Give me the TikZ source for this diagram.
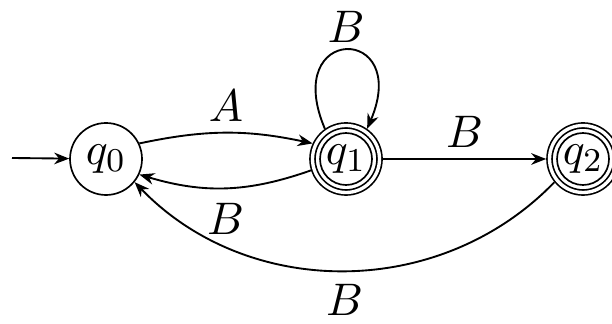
\documentclass[tikz,border=0pt]{standalone}
\usetikzlibrary{arrows.meta}
\begin{document}
\begin{tikzpicture}[x=0.24pt,y=0.24pt,
  every node/.style={font=\fontsize{10.8}{13}\selectfont},
  state/.style={circle, draw, minimum size=17.28pt, inner sep=0pt},
  accepting/.style={minimum size=16.08pt, double, double distance=0.8pt, outer sep=0.8pt,
    path picture={\draw (path picture bounding box.center) circle[radius=6.24pt];}},
  edge/.style={draw, line width=0.45pt, -{Stealth[length=3.6pt,width=2.8pt]}},
  lbl/.style={inner sep=2.5pt}]
\useasboundingbox (0,0) rectangle (612,323);
\node[state] (q0) at (106,164) {$q_0$};
\node[state,accepting] (q1) at (346,164) {$q_1$};
\node[state,accepting] (q2) at (583,164) {$q_2$};
\coordinate (start) at (12,165);
\draw[edge] (start) -- (q0);
\draw[edge] (q0.25) to[bend left=12] node[lbl,above] (lA) {$A$} (q1.155);
\draw[edge] (q1.198) to[bend left=18] node[lbl,below,yshift=-1pt] (lB1) {$B$} (q0.-25);
\draw[edge] (q1) -- node[lbl,above] (lB2) {$B$} (q2);
\draw[edge] (q1.125) .. controls +(113:114) and +(67:114) .. node[lbl,above,inner sep=1.5pt] (lB3) {$B$} (q1.55);
\draw[edge] (q2.219) to[bend left=46] node[lbl,below,yshift=-0.5pt] (lB4) {$B$} (q0.-39);
\end{tikzpicture}
\end{document}
